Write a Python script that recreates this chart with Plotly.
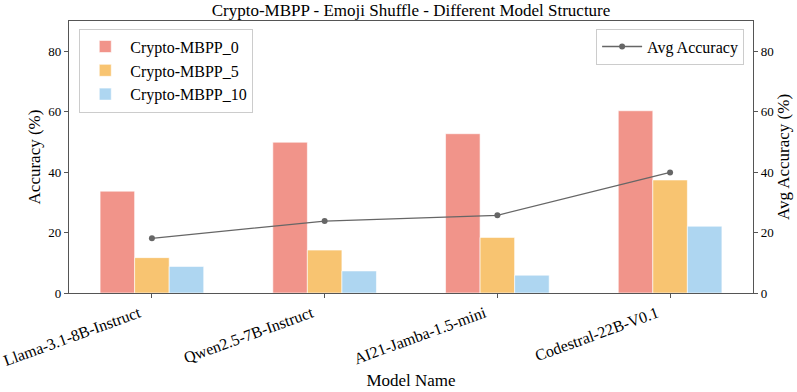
import plotly.graph_objects as go

models = ["Llama-3.1-8B-Instruct", "Qwen2.5-7B-Instruct", "AI21-Jamba-1.5-mini", "Codestral-22B-V0.1"]
mbpp_0 = [33.7, 49.9, 52.7, 60.3]
mbpp_5 = [11.7, 14.2, 18.4, 37.4]
mbpp_10 = [8.8, 7.3, 5.9, 22.1]
avg_acc = [18.1, 23.8, 25.7, 39.9]

series_names = ["Crypto-MBPP_0", "Crypto-MBPP_5", "Crypto-MBPP_10"]
series_vals = [mbpp_0, mbpp_5, mbpp_10]
colors = ["#F1948A", "#F8C471", "#AED6F1"]
offsets = [-0.2, 0.0, 0.2]

x_idx = list(range(len(models)))
FF = "Liberation Serif, Times New Roman, serif"

fig = go.Figure()
for name, vals, c, off in zip(series_names, series_vals, colors, offsets):
    fig.add_trace(go.Bar(
        x=[i + off for i in x_idx], y=vals, name=name, width=0.2,
        marker=dict(color=c, line=dict(color="white", width=0.6)),
        legend="legend",
    ))

fig.add_trace(go.Scatter(
    x=x_idx, y=avg_acc, name="Avg Accuracy", mode="lines+markers",
    line=dict(color="#666666", width=1.3), marker=dict(size=6, color="#666666"),
    yaxis="y2", legend="legend2",
))

axis_line = dict(showline=True, linecolor="#555555", linewidth=1.2, ticks="outside",
                 ticklen=4, tickcolor="#555555", showgrid=False, zeroline=False)

fig.update_layout(
    width=797, height=392,
    margin=dict(l=69, r=44, t=21, b=99, autoexpand=False),
    plot_bgcolor="white", paper_bgcolor="white",
    font=dict(family=FF, color="black"),
    title=dict(text="Crypto-MBPP - Emoji Shuffle - Different Model Structure",
               xref="paper", x=0.5, xanchor="center", y=0.974, yanchor="middle",
               font=dict(size=17, family=FF)),
    barmode="overlay",
    xaxis=dict(range=[-0.48, 3.48], tickmode="array", tickvals=x_idx, ticktext=models,
               tickangle=-20, tickfont=dict(size=16, family=FF), ticklabelshift=-13,
               title=dict(text="Model Name", font=dict(size=17, family=FF), standoff=6),
               mirror=True, **axis_line),
    yaxis=dict(range=[0, 90], tickvals=[0, 20, 40, 60, 80], tickfont=dict(size=13, family=FF),
               title=dict(text="Accuracy (%)", font=dict(size=17, family=FF), standoff=3),
               **axis_line),
    yaxis2=dict(range=[0, 90], tickvals=[0, 20, 40, 60, 80], tickfont=dict(size=13, family=FF),
                overlaying="y", side="right",
                title=dict(text="Avg Accuracy (%)", font=dict(size=17, family=FF), standoff=4),
                **axis_line),
    legend=dict(x=0.015, y=0.972, xanchor="left", yanchor="top",
                bgcolor="rgba(255,255,255,0.8)", bordercolor="#cccccc", borderwidth=1,
                font=dict(size=16, family=FF), itemwidth=40, tracegroupgap=0),
    legend2=dict(x=0.987, y=0.972, xanchor="right", yanchor="top",
                 bgcolor="rgba(255,255,255,0.8)", bordercolor="#cccccc", borderwidth=1,
                 font=dict(size=16, family=FF), itemwidth=40),
)

fig.write_html("out.html", config={"displayModeBar": False},
               post_script="document.body.style.margin='0';")
